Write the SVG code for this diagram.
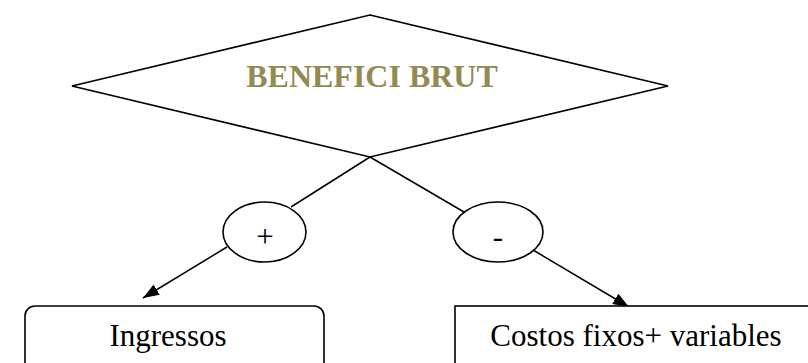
<svg xmlns="http://www.w3.org/2000/svg" width="808" height="363" viewBox="0 0 808 363">
<defs>
<style>
.shape{fill:#fff;stroke:#000;stroke-width:1.6}
.conn{fill:none;stroke:#000;stroke-width:1.5}
.lbl{font-family:"Liberation Serif","Times New Roman",serif;font-size:31px;fill:#000;text-anchor:middle}
.title{font-family:"Liberation Serif","Times New Roman",serif;font-size:32px;font-weight:bold;fill:#948a54;text-anchor:middle}
</style>
<marker id="ah" viewBox="0 0 16 12" refX="16" refY="6" markerWidth="16" markerHeight="12" markerUnits="userSpaceOnUse" orient="auto">
<path d="M0,0 L16,6 L0,12 Z" fill="#000"/>
</marker>
</defs>
<rect width="808" height="363" fill="#fff"/>
<g id="connectors">
<line class="conn" x1="370" y1="157" x2="291" y2="207"/>
<line class="conn" x1="370" y1="157" x2="464" y2="212"/>
<line class="conn" x1="227" y1="247" x2="143" y2="298" marker-end="url(#ah)"/>
<line class="conn" x1="533" y1="250" x2="629" y2="307" marker-end="url(#ah)"/>
</g>
<g id="beneficiBrut">
<polygon class="shape" points="370,15 668,86 370,157 72,86"/>
<text class="title" x="372" y="87">BENEFICI BRUT</text>
</g>
<g id="plus">
<ellipse class="shape" cx="264.5" cy="232" rx="41.5" ry="30"/>
<text class="lbl" x="265" y="247">+</text>
</g>
<g id="minus">
<ellipse class="shape" cx="498" cy="232" rx="45" ry="30"/>
<text class="lbl" x="498" y="247">-</text>
</g>
<g id="ingressos">
<rect class="shape" x="25" y="306" width="299" height="70" rx="10" ry="10"/>
<text class="lbl" x="168" y="346">Ingressos</text>
</g>
<g id="costos">
<rect class="shape" x="455" y="306" width="370" height="70"/>
<text class="lbl" x="636" y="346">Costos fixos+ variables</text>
</g>
</svg>
